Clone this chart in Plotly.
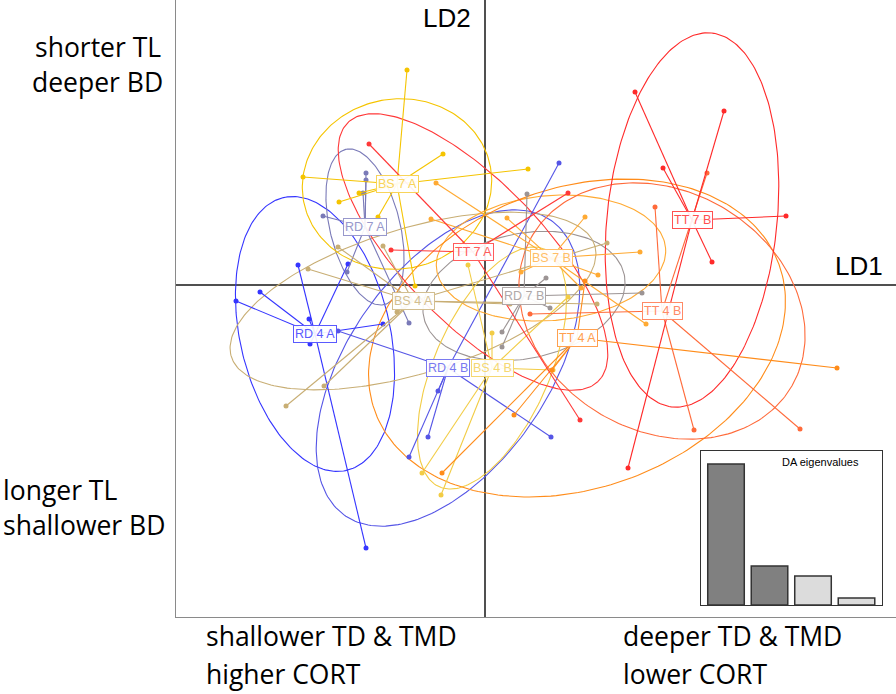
import numpy as np
import plotly.graph_objects as go

# ---------------- data (LD scores) ----------------
groups = ["RD 4 A", "RD 4 B", "RD 7 A", "RD 7 B", "BS 4 A", "BS 4 B",
          "BS 7 A", "BS 7 B", "TT 4 A", "TT 4 B", "TT 7 A", "TT 7 B"]
centroid_ld1 = [-3.40, -0.74, -2.40, 0.78, -1.44, 0.14, -1.76, 1.32, 1.84, 3.54, -0.24, 4.14]
centroid_ld2 = [-0.98, -1.66, 1.16, -0.22, -0.32, -1.66, 2.02, 0.54, -1.06, -0.52, 0.66, 1.30]

# ellipse (inertia) parameters per group: semi-axes and orientation (deg)
ellipse_a = [2.8, 3.6, 1.6, 2.05, 3.8, 2.6, 1.9, 2.3, 4.3, 3.0, 3.6, 3.76]
ellipse_b = [1.5, 2.0, 0.7, 1.25, 1.45, 1.15, 1.7, 1.25, 3.0, 2.4, 1.4, 1.7]
ellipse_angle = [103, 55, 104, 12, 17, 66, 10, 5, 20, -30, -46, 84]

RD4A_LD1 = [-4.98, -4.50, -3.74, -3.52, -3.50, -2.04, -2.38, -2.74]
RD4A_LD2 = [-0.32, -0.14, 0.40, -0.68, -1.18, -0.78, -5.26, 0.42]
RD4B_LD1 = [-0.94, -1.14, -1.52, 1.32, 1.48, -2.94]
RD4B_LD2 = [-2.12, -3.04, -3.44, -3.04, 2.44, -0.92]
RD7A_LD1 = [-2.38, -2.38, -2.44, -3.24, -2.76, -1.52]
RD7A_LD2 = [2.24, 2.10, 1.84, 1.38, 0.26, -0.76]
RD7B_LD1 = [0.84, 1.22, 3.14, 1.30, 0.34, 0.34]
RD7B_LD2 = [1.82, 0.14, -0.16, -0.46, -0.94, -1.24]
BS4A_LD1 = [-3.54, -3.98, -3.22, -2.94, -2.04, 2.44, 2.24, 0.50, -1.76]
BS4A_LD2 = [0.32, -2.42, -2.02, 0.76, 0.78, 0.84, -0.38, -0.38, -0.54]
BS4B_LD1 = [0.14, 1.36, -1.26, -0.88, -0.34, 1.66]
BS4B_LD2 = [-0.96, -1.70, -3.76, -4.20, 0.40, -0.24]
BS7A_LD1 = [-1.56, -0.84, -3.64, -2.92, -2.52, -2.14, -1.40, 0.86]
BS7A_LD2 = [4.30, 2.62, 2.16, 1.66, 1.84, 1.36, -0.02, 2.32]
BS7B_LD1 = [2.00, 3.10, 2.26, 0.72, 0.44, 3.22, 1.92, -0.98, -1.08]
BS7B_LD2 = [1.36, 0.66, 0.20, 0.26, 1.34, -0.78, -0.06, 2.04, 1.32]
TT4A_LD1 = [7.04, 1.34, -0.86, 0.58, 2.00]
TT4A_LD2 = [-1.66, -1.70, -3.76, -2.60, 0.08]
TT4B_LD1 = [3.40, 4.44, 4.18, 6.30, 0.90]
TT4B_LD2 = [1.56, 2.24, -2.90, -2.88, -0.58]
TT7A_LD1 = [-2.32, -1.88, 1.66, 1.90]
TT7A_LD2 = [2.82, 0.70, 1.84, -2.70]
TT7B_LD1 = [3.00, 4.78, 3.56, 6.02, 4.54, 2.86]
TT7B_LD2 = [3.86, 3.48, 2.34, 1.38, 0.46, -3.66]

eig_index = [1, 2, 3, 4]
eig_values = [14.1, 3.9, 2.9, 0.7]

# ---------------- styles ----------------
colors = ["#3535FF", "#5555E6", "#7A7AB8", "#9C9494", "#C8AE74", "#F2CC45",
          "#F5C400", "#FFAA33", "#FF8C1A", "#FF6A3A", "#FF3838", "#FF2A2A"]
label_colors = ["#5A5AFF", "#7A7AF0", "#9898CC", "#AFA8A8", "#D2BE90", "#F5D872",
                "#F8D45A", "#FFBE66", "#FFA050", "#FF8A66", "#FF5C5C", "#FF5050"]

pts_ld1 = [RD4A_LD1, RD4B_LD1, RD7A_LD1, RD7B_LD1, BS4A_LD1, BS4B_LD1,
           BS7A_LD1, BS7B_LD1, TT4A_LD1, TT4B_LD1, TT7A_LD1, TT7B_LD1]
pts_ld2 = [RD4A_LD2, RD4B_LD2, RD7A_LD2, RD7B_LD2, BS4A_LD2, BS4B_LD2,
           BS7A_LD2, BS7B_LD2, TT4A_LD2, TT4B_LD2, TT7A_LD2, TT7B_LD2]

fig = go.Figure()
t = np.linspace(0, 2 * np.pi, 240)

for i, g in enumerate(groups):
    cx, cy = centroid_ld1[i], centroid_ld2[i]
    th = np.deg2rad(ellipse_angle[i])
    a, b = ellipse_a[i], ellipse_b[i]
    ex = cx + a * np.cos(t) * np.cos(th) - b * np.sin(t) * np.sin(th)
    ey = cy + a * np.cos(t) * np.sin(th) + b * np.sin(t) * np.cos(th)
    fig.add_trace(go.Scatter(x=ex, y=ey, mode="lines",
                             line=dict(color=colors[i], width=1.1),
                             showlegend=False, hoverinfo="skip"))

for i, g in enumerate(groups):
    cx, cy = centroid_ld1[i], centroid_ld2[i]
    lx, ly = [], []
    for px_, py_ in zip(pts_ld1[i], pts_ld2[i]):
        lx += [cx, px_, None]
        ly += [cy, py_, None]
    fig.add_trace(go.Scatter(x=lx, y=ly, mode="lines",
                             line=dict(color=colors[i], width=1.1),
                             showlegend=False, hoverinfo="skip"))
    fig.add_trace(go.Scatter(x=pts_ld1[i], y=pts_ld2[i], mode="markers",
                             marker=dict(color=colors[i], size=5),
                             name=g, showlegend=False))

for i, g in enumerate(groups):
    fig.add_annotation(x=centroid_ld1[i], y=centroid_ld2[i], text=g,
                       showarrow=False, xref="x", yref="y",
                       font=dict(family="Liberation Sans", size=12.5, color=label_colors[i]),
                       bgcolor="rgba(255,255,255,0.92)", bordercolor=label_colors[i],
                       borderwidth=1, borderpad=1)

# eigenvalue inset
fig.add_trace(go.Bar(x=eig_index, y=eig_values, xaxis="x2", yaxis="y2",
                     marker=dict(color=["#808080", "#808080", "#DCDCDC", "#DCDCDC"],
                                 line=dict(color="#333333", width=1.5)),
                     width=0.84, showlegend=False, hoverinfo="skip"))

W, H = 896, 694
L, B = 176, 77
PW, PH = W - L, H - B


def px(xp):
    return (xp - L) / PW


def py(yp):
    return (PH - yp) / PH


fig.update_layout(
    width=W, height=H,
    margin=dict(l=L, r=0, t=0, b=B),
    paper_bgcolor="white", plot_bgcolor="white",
    xaxis=dict(range=[-6.18, 8.22], showgrid=False, showticklabels=False, ticks="",
               zeroline=True, zerolinecolor="#505050", zerolinewidth=1.5,
               showline=True, mirror=True, linecolor="#8a8a8a", linewidth=1),
    yaxis=dict(range=[-6.64, 5.70], showgrid=False, showticklabels=False, ticks="",
               zeroline=True, zerolinecolor="#505050", zerolinewidth=1.5,
               showline=True, mirror=True, linecolor="#8a8a8a", linewidth=1),
    xaxis2=dict(domain=[px(701), px(882)], anchor="y2", range=[0.425, 4.586],
                showgrid=False, showticklabels=False, ticks="", zeroline=False,
                showline=True, mirror=True, linecolor="#333333", linewidth=1.2),
    yaxis2=dict(domain=[py(605), py(451)], anchor="x2", range=[0, 15.4],
                showgrid=False, showticklabels=False, ticks="", zeroline=False,
                showline=True, mirror=True, linecolor="#333333", linewidth=1.2),
    bargap=0.16,
)

txt_font = dict(family="Open Sans", size=26.5, color="black")
fig.add_annotation(x=px(473), y=py(18), xref="paper", yref="paper", text="LD2",
                   showarrow=False, xanchor="right", yanchor="middle",
                   font=dict(family="Liberation Sans", size=26, color="black"))
fig.add_annotation(x=px(885), y=py(266), xref="paper", yref="paper", text="LD1",
                   showarrow=False, xanchor="right", yanchor="middle",
                   font=dict(family="Liberation Sans", size=26, color="black"))
fig.add_annotation(x=px(861), y=py(462), xref="paper", yref="paper", text="DA eigenvalues",
                   showarrow=False, xanchor="right", yanchor="middle",
                   font=dict(family="Liberation Sans", size=11, color="black"))

side_texts = [("shorter TL", 163, 47, "right"), ("deeper BD", 165, 82, "right"),
              ("longer TL", 1, 490, "left"), ("shallower BD", 1, 525, "left"),
              ("shallower TD & TMD", 204, 636, "left"), ("higher CORT", 204, 674, "left"),
              ("deeper TD & TMD", 621, 636, "left"), ("lower CORT", 621, 674, "left")]
for s, xx, yy, anc in side_texts:
    fig.add_annotation(x=px(xx), y=py(yy), xref="paper", yref="paper", text=s,
                       showarrow=False, xanchor=anc, yanchor="middle", font=txt_font)

fig.write_html("out.html", config={"displayModeBar": False},
               post_script="document.body.style.margin='0';document.body.style.padding='0';")
